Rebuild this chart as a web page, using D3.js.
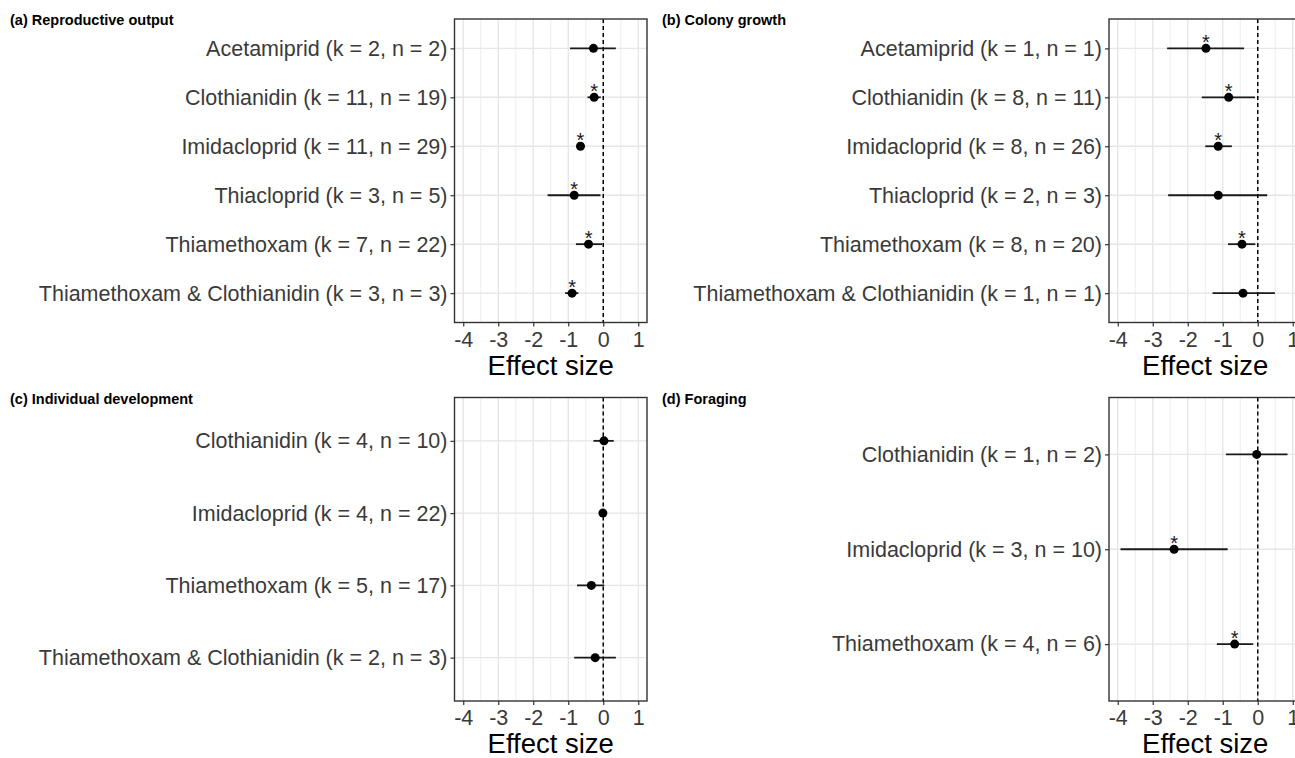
<!DOCTYPE html>
<html><head><meta charset="utf-8">
<script src="https://cdn.jsdelivr.net/npm/d3@7"></script>
<style>body{margin:0;background:#fff}svg{display:block;font-family:"Liberation Sans",Arial,sans-serif}</style>
</head><body><svg id="c" width="1295" height="758"></svg>
<script>
// ---- data ----
const xTicks = [-4, -3, -2, -1, 0, 1];
const xTickLabels = ["-4", "-3", "-2", "-1", "0", "1"];
const xMinor = [-3.5, -2.5, -1.5, -0.5, 0.5];
const xTitle = "Effect size";

const titleA = "(a) Reproductive output";
const catsA = ["Acetamiprid (k = 2, n = 2)", "Clothianidin (k = 11, n = 19)", "Imidacloprid (k = 11, n = 29)", "Thiacloprid (k = 3, n = 5)", "Thiamethoxam (k = 7, n = 22)", "Thiamethoxam & Clothianidin (k = 3, n = 3)"];
const estA = [-0.28, -0.26, -0.65, -0.83, -0.42, -0.89];
const lowA = [-0.95, -0.45, -0.76, -1.59, -0.78, -1.09];
const highA = [0.36, -0.07, -0.55, -0.08, -0.03, -0.71];
const sigA = [false, true, true, true, true, true];

const titleB = "(b) Colony growth";
const catsB = ["Acetamiprid (k = 1, n = 1)", "Clothianidin (k = 8, n = 11)", "Imidacloprid (k = 8, n = 26)", "Thiacloprid (k = 2, n = 3)", "Thiamethoxam (k = 8, n = 20)", "Thiamethoxam & Clothianidin (k = 1, n = 1)"];
const estB = [-1.48, -0.83, -1.13, -1.13, -0.45, -0.42];
const lowB = [-2.59, -1.60, -1.50, -2.56, -0.85, -1.29];
const highB = [-0.39, -0.08, -0.74, 0.27, -0.07, 0.49];
const sigB = [true, true, true, false, true, false];

const titleC = "(c)  Individual development";
const catsC = ["Clothianidin (k = 4, n = 10)", "Imidacloprid (k = 4, n = 22)", "Thiamethoxam (k = 5, n = 17)", "Thiamethoxam & Clothianidin (k = 2, n = 3)"];
const estC = [0.02, -0.01, -0.34, -0.23];
const lowC = [-0.28, -0.08, -0.75, -0.83];
const highC = [0.30, 0.06, 0.03, 0.36];
const sigC = [false, false, false, false];

const titleD = "(d)  Foraging";
const catsD = ["Clothianidin (k = 1, n = 2)", "Imidacloprid (k = 3, n = 10)", "Thiamethoxam (k = 4, n = 6)"];
const estD = [-0.03, -2.39, -0.66];
const lowD = [-0.91, -3.92, -1.17];
const highD = [0.85, -0.86, -0.13];
const sigD = [false, true, true];

// ---- layout ----
const svg = d3.select("#c");
const panels = [
  {title: titleA, cats: catsA, est: estA, low: lowA, high: highA, sig: sigA, left: 454.5, right: 647, top: 19, bottom: 322.5, tx: 10, ty: 25},
  {title: titleB, cats: catsB, est: estB, low: lowB, high: highB, sig: sigB, left: 1109, right: 1301.5, top: 19, bottom: 322.5, tx: 662, ty: 25},
  {title: titleC, cats: catsC, est: estC, low: lowC, high: highC, sig: sigC, left: 454.5, right: 647, top: 397.5, bottom: 701, tx: 10, ty: 404},
  {title: titleD, cats: catsD, est: estD, low: lowD, high: highD, sig: sigD, left: 1109, right: 1301.5, top: 397.5, bottom: 701, tx: 662, ty: 404}
];

panels.forEach(p => {
  const g = svg.append("g");
  const x = d3.scaleLinear().domain([-4.25, 1.25]).range([p.left, p.right]);
  const y = d3.scalePoint().domain(p.cats).range([p.top, p.bottom]).padding(0.6);

  // grid
  g.selectAll(".minor").data(xMinor).join("line")
    .attr("x1", d => x(d)).attr("x2", d => x(d)).attr("y1", p.top).attr("y2", p.bottom)
    .attr("stroke", "#ebebeb").attr("stroke-width", 0.9);
  g.selectAll(".major").data(xTicks).join("line")
    .attr("x1", d => x(d)).attr("x2", d => x(d)).attr("y1", p.top).attr("y2", p.bottom)
    .attr("stroke", "#e6e6e6").attr("stroke-width", 1.4);
  g.selectAll(".hmajor").data(p.cats).join("line")
    .attr("x1", p.left).attr("x2", p.right).attr("y1", d => y(d)).attr("y2", d => y(d))
    .attr("stroke", "#e6e6e6").attr("stroke-width", 1.4);

  // zero line
  g.append("line").attr("x1", x(0)).attr("x2", x(0)).attr("y1", p.top).attr("y2", p.bottom)
    .attr("stroke", "#000").attr("stroke-width", 1.5).attr("stroke-dasharray", "4,3");

  const idx = p.cats.map((c, i) => i);
  g.selectAll(".ci").data(idx).join("line")
    .attr("x1", i => x(p.low[i])).attr("x2", i => x(p.high[i]))
    .attr("y1", i => y(p.cats[i])).attr("y2", i => y(p.cats[i]))
    .attr("stroke", "#1a1a1a").attr("stroke-width", 1.8);
  g.selectAll(".pt").data(idx).join("circle")
    .attr("cx", i => x(p.est[i])).attr("cy", i => y(p.cats[i])).attr("r", 4.5)
    .attr("fill", "#000");
  g.selectAll(".star").data(idx.filter(i => p.sig[i])).join("text")
    .attr("x", i => x(p.est[i])).attr("y", i => y(p.cats[i]) + 1)
    .attr("text-anchor", "middle").attr("font-size", 20).attr("fill", "#1a1a1a").text("*");

  // border
  g.append("rect").attr("x", p.left).attr("y", p.top).attr("width", p.right - p.left).attr("height", p.bottom - p.top)
    .attr("fill", "none").attr("stroke", "#333").attr("stroke-width", 1.4);

  // axes
  const ax = g.append("g").attr("transform", `translate(0,${p.bottom})`)
    .call(d3.axisBottom(x).tickValues(xTicks).tickFormat((d, i) => xTickLabels[i]).tickSize(4).tickPadding(5));
  ax.select(".domain").remove();
  ax.selectAll("line").attr("stroke", "#333").attr("stroke-width", 1.2);
  ax.selectAll("text").attr("font-size", 21.5).attr("fill", "#3a3a3a").attr("font-family", null);

  const ay = g.append("g").attr("transform", `translate(${p.left},0)`)
    .call(d3.axisLeft(y).tickSize(4).tickPadding(3));
  ay.select(".domain").remove();
  ay.selectAll("line").attr("stroke", "#333").attr("stroke-width", 1.2);
  ay.selectAll("text").attr("font-size", 21.5).attr("fill", "#3a3a3a").attr("font-family", null);

  g.append("text").attr("x", (p.left + p.right) / 2).attr("y", p.bottom + 52)
    .attr("text-anchor", "middle").attr("font-size", 27.5).attr("fill", "#000").text(xTitle);

  g.append("text").attr("x", p.tx).attr("y", p.ty).attr("font-size", 14.5).attr("font-weight", "bold")
    .attr("fill", "#000").text(p.title);
});
</script></body></html>
